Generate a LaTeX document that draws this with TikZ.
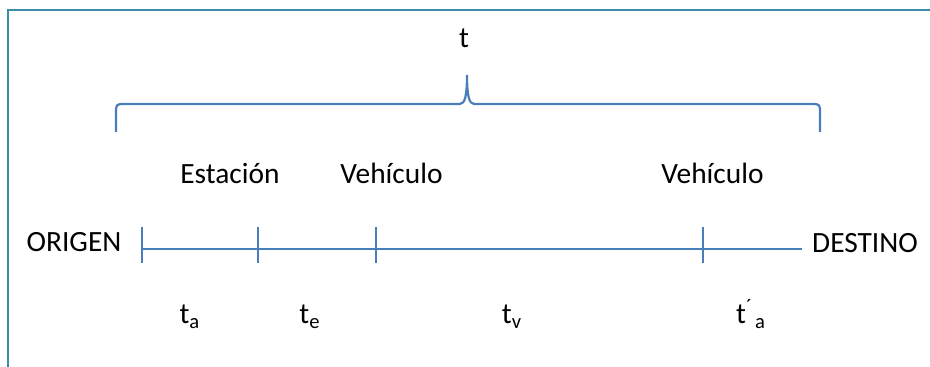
\documentclass[tikz,border=0pt]{standalone}
\usepackage{fontspec}
\setmainfont{Carlito}
\usepackage{tikz}
\usetikzlibrary{calc}
\definecolor{lineblue}{HTML}{4A7EBB}
\definecolor{frameteal}{HTML}{3A8CA8}
\tikzstyle{label} = [
  inner sep=0pt, anchor=base, text=black,
  font=\fontsize{14.7}{17}\selectfont
]
\tikzstyle{timeline} = [
  draw=lineblue, line width=1.1pt
]
\tikzstyle{frame} = [
  draw=frameteal, line width=1pt
]

\begin{document}
\begin{tikzpicture}[x=0.5pt, y=-0.5pt]

  \useasboundingbox (0,0) rectangle (930,367);

  % ── Frame ─────────────────────────────────────────────
  \draw[frame] (930,10) -- (8,10) -- (8,367);

  % ── Total time ────────────────────────────────────────
  \node[label] (total) at (464,48) {t};

  % ── Brace ─────────────────────────────────────────────
  \coordinate (braceL) at (116,132);
  \coordinate (braceR) at (820,132);
  \coordinate (bracetip) at (467,75);
  \draw[timeline]
    (braceL) -- ++(0,-19) .. controls ++(0,-8) and ++(-8,0) .. ($(braceL)+(8,-28)$)
    -- ($(bracetip)+(-7,29)$) .. controls ++(5,0) and ++(0,20) .. (bracetip)
    .. controls ++(0,20) and ++(-5,0) .. ($(bracetip)+(7,29)$)
    -- ($(braceR)+(-8,-28)$) .. controls ++(8,0) and ++(0,-8) .. ($(braceR)+(0,-19)$)
    -- (braceR);

  % ── Stages ────────────────────────────────────────────
  \node[label] (estacion)  at (230,184)   {Estación};
  \node[label] (vehiculoA) at (391.5,184) {Vehículo};
  \node[label] (vehiculoB) at (712.5,184) {Vehículo};

  % ── Ends ──────────────────────────────────────────────
  \node[label] (origen)  at (74,252)  {ORIGEN};
  \node[label] (destino) at (865,253) {DESTINO};

  % ── Timeline ──────────────────────────────────────────
  \coordinate (tick0) at (141.7,249);
  \coordinate (tick1) at (257.7,249);
  \coordinate (tick2) at (376,249);
  \coordinate (tick3) at (703.3,249);
  \coordinate (lineend) at (801.7,249);
  \draw[timeline] (tick0) -- (lineend);
  \foreach \t in {tick0,tick1,tick2,tick3}
    \draw[timeline] ($(\t)+(0,-22)$) -- ($(\t)+(0,14)$);

  % ── Partial times ─────────────────────────────────────
  \node[label] (ta)  at (190,324) {t\textsubscript{a}};
  \node[label] (te)  at (310,324) {t\textsubscript{e}};
  \node[label] (tv)  at (512,324) {t\textsubscript{v}};
  \node[label] (tap) at (751,324) {t\textsuperscript{´}\kern1pt\textsubscript{a}};

\end{tikzpicture}
\end{document}
